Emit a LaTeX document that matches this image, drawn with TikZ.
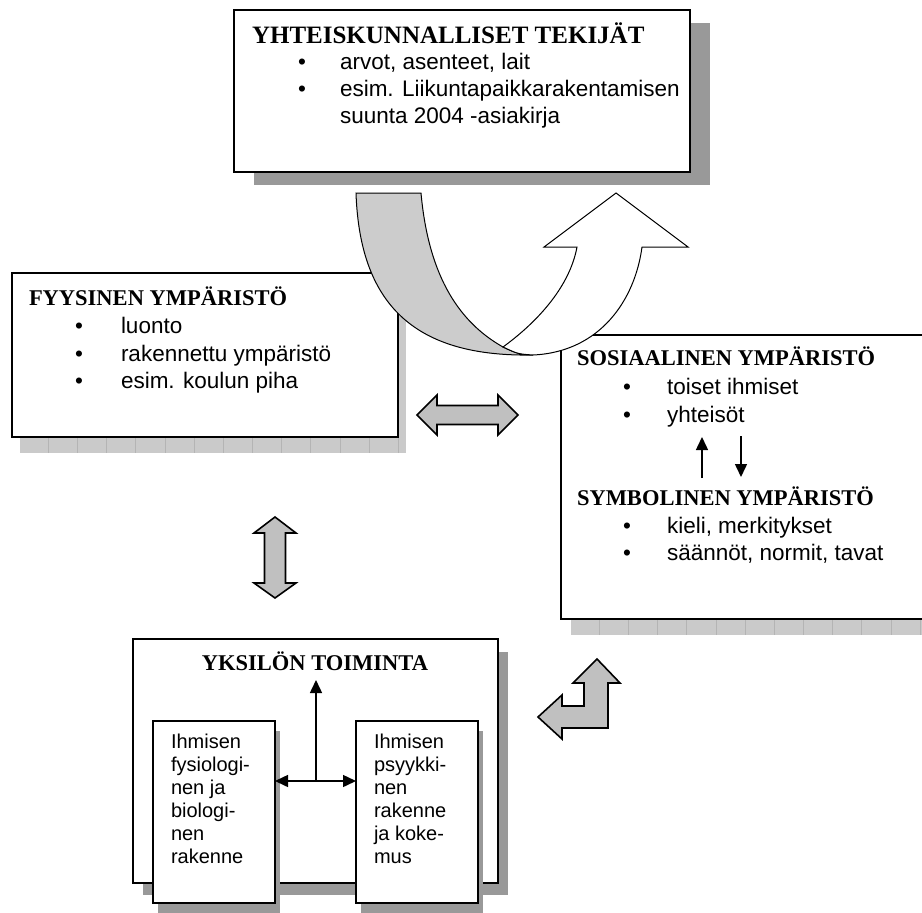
\documentclass[tikz,border=0pt]{standalone}
\usepackage{fontspec}
\setmainfont{Liberation Serif}
\newfontfamily\arialfont{Liberation Sans}
\usetikzlibrary{arrows.meta}
\definecolor{shadowdark}{HTML}{999999}
\definecolor{shadowlight}{HTML}{CACACA}
\definecolor{seam}{HTML}{B4B4B4}
\definecolor{arrowgray}{HTML}{C0C0C0}
\definecolor{curvegray}{HTML}{CCCCCC}
\newcommand\myBigTtl{\fontsize{25}{30}\selectfont\bfseries}
\newcommand\myTtl{\fontsize{22.5}{27}\selectfont\bfseries}
\newcommand\myBody{\arialfont\fontsize{22.5}{27}\selectfont}
\newcommand\mySmall{\arialfont\fontsize{20}{23}\selectfont}
\begin{document}
\begin{tikzpicture}[x=1pt,y=-1pt,
  every node/.style={inner sep=0pt, outer sep=0pt},
  box/.style={draw=black, line width=2pt, fill=white, rectangle, anchor=north west},
  ttl/.style={font=\myTtl, anchor=base west},
  txt/.style={font=\myBody, anchor=base west},
  blt/.style={font=\myBody, anchor=base},
  sml/.style={font=\mySmall, anchor=base west},
  fat/.style={draw=black, line width=1.6pt, fill=arrowgray, line join=miter},
  curve/.style={draw=black, line width=1pt, line join=miter},
  thin arrow/.style={line width=1.5pt, -{Triangle[length=13pt,width=12pt]}}]
\clip (0,0) rectangle (922,913);
\fill[white] (0,0) rectangle (922,913);

% ---------- shadows
\fill[shadowdark] (254,23) rectangle (710,185);
\fill[shadowlight] (20,289) rectangle (406,453);
\fill[shadowlight] (571,350) rectangle (940,635);
\foreach \k in {0,...,12} \draw[seam, line width=0.8pt] ({48.3+29.17*\k},289) -- ({48.3+29.17*\k},453);
\foreach \k in {0,...,11} \draw[seam, line width=0.8pt] ({599.3+29.17*\k},350) -- ({599.3+29.17*\k},635);
\fill[shadowdark] (143,652) rectangle (508,895);

% ---------- boxes
\node[box, minimum width=456pt, minimum height=162pt] (topbox) at (234,10) {};
\node[box, minimum width=386pt, minimum height=164pt] (leftbox) at (12,273) {};
\node[box, minimum width=380pt, minimum height=284pt] (rightbox) at (561,335) {};
\node[box, minimum width=365pt, minimum height=244pt] (botbox) at (133,639) {};
\fill[shadowdark] (158,731) rectangle (280,913);
\fill[shadowdark] (361,731) rectangle (483,913);
\node[box, minimum width=122pt, minimum height=182pt] (inL) at (153,721) {};
\node[box, minimum width=122pt, minimum height=182pt] (inR) at (356,721) {};

% ---------- top box text
\node[font=\myBigTtl, anchor=base west] (t0) at (252,43) {YHTEISKUNNALLISET TEKIJÄT};
\node[blt] (tb1) at (302,69) {•};
\node[txt] (t1) at (340,69) {arvot, asenteet, lait};
\node[blt] (tb2) at (302,96) {•};
\node[txt] (t2) at (340,96) {esim. Liikuntapaikkarakentamisen};
\node[txt] (t3) at (340,123) {suunta 2004 -asiakirja};

% ---------- left box text
\node[ttl] (l0) at (29,305) {FYYSINEN YMPÄRISTÖ};
\node[blt] (lb1) at (79,333) {•};
\node[txt] (l1) at (121,333) {luonto};
\node[blt] (lb2) at (79,361) {•};
\node[txt] (l2) at (121,361) {rakennettu ympäristö};
\node[blt] (lb3) at (79,388) {•};
\node[txt] (l3) at (121,388) {esim. koulun piha};

% ---------- right box text
\node[ttl] (r0) at (577,365) {SOSIAALINEN YMPÄRISTÖ};
\node[blt] (rb1) at (627,394) {•};
\node[txt] (r1) at (667,394) {toiset ihmiset};
\node[blt] (rb2) at (627,422) {•};
\node[txt] (r2) at (667,422) {yhteisöt};
\node[ttl] (s0) at (577,505) {SYMBOLINEN YMPÄRISTÖ};
\node[blt] (sb1) at (627,533) {•};
\node[txt] (s1) at (667,533) {kieli, merkitykset};
\node[blt] (sb2) at (627,560) {•};
\node[txt] (s2) at (667,560) {säännöt, normit, tavat};
\coordinate (ua) at (702,478);
\coordinate (ub) at (702,437);
\coordinate (da) at (741,436);
\coordinate (db) at (741,477);
\draw[thin arrow] (ua) -- (ub);
\draw[thin arrow] (da) -- (db);

% ---------- bottom box text
\node[font=\myTtl, anchor=base] (y0) at (315,670) {YKSILÖN TOIMINTA};
\node[sml] (a1) at (171,748) {Ihmisen};
\node[sml] (a2) at (171,771) {fysiologi-};
\node[sml] (a3) at (171,794) {nen ja};
\node[sml] (a4) at (171,817) {biologi-};
\node[sml] (a5) at (171,840) {nen};
\node[sml] (a6) at (171,863) {rakenne};
\node[sml] (b1) at (374,748) {Ihmisen};
\node[sml] (b2) at (374,771) {psyykki-};
\node[sml] (b3) at (374,794) {nen};
\node[sml] (b4) at (374,817) {rakenne};
\node[sml] (b5) at (374,840) {ja koke-};
\node[sml] (b6) at (374,863) {mus};
\coordinate (j) at (316,781);
\coordinate (jt) at (316,680);
\draw[thin arrow] (j) -- (jt);
\draw[line width=1.5pt, {Triangle[length=13pt,width=12pt]}-{Triangle[length=13pt,width=12pt]}] (inL.east |- j) -- (inR.west |- j);

% ---------- block arrows
\draw[fat] (417,415) -- (437,395) -- (437,405.5) -- (498,405.5) -- (498,395) -- (518,415)
  -- (498,435) -- (498,424.5) -- (437,424.5) -- (437,435) -- cycle;
\draw[fat] (275,517) -- (296,533) -- (285.5,533) -- (285.5,583) -- (296,583) -- (275,598)
  -- (254,583) -- (264.5,583) -- (264.5,533) -- (254,533) -- cycle;
\draw[fat] (597,659) -- (620,683) -- (608,683) -- (608,728) -- (562,728) -- (562,739)
  -- (538,717) -- (562,695) -- (562,706) -- (584,706) -- (584,683) -- (573,683) -- cycle;

% ---------- U-turn arrow
\draw[curve, fill=curvegray] (356,193) .. controls (360,310) and (420,357) .. (533,355)
  .. controls (518,354) .. (503,347)
  .. controls (455,320) and (428,270) .. (421,193) -- cycle;
\draw[curve, fill=white] (503,347) .. controls (540,320) and (570,285) .. (577,247)
  -- (544,247) -- (616,193) -- (688,247) -- (642,247)
  .. controls (635,300) and (600,352) .. (533,355)
  .. controls (518,354) .. (503,347) -- cycle;
\end{tikzpicture}
\end{document}
